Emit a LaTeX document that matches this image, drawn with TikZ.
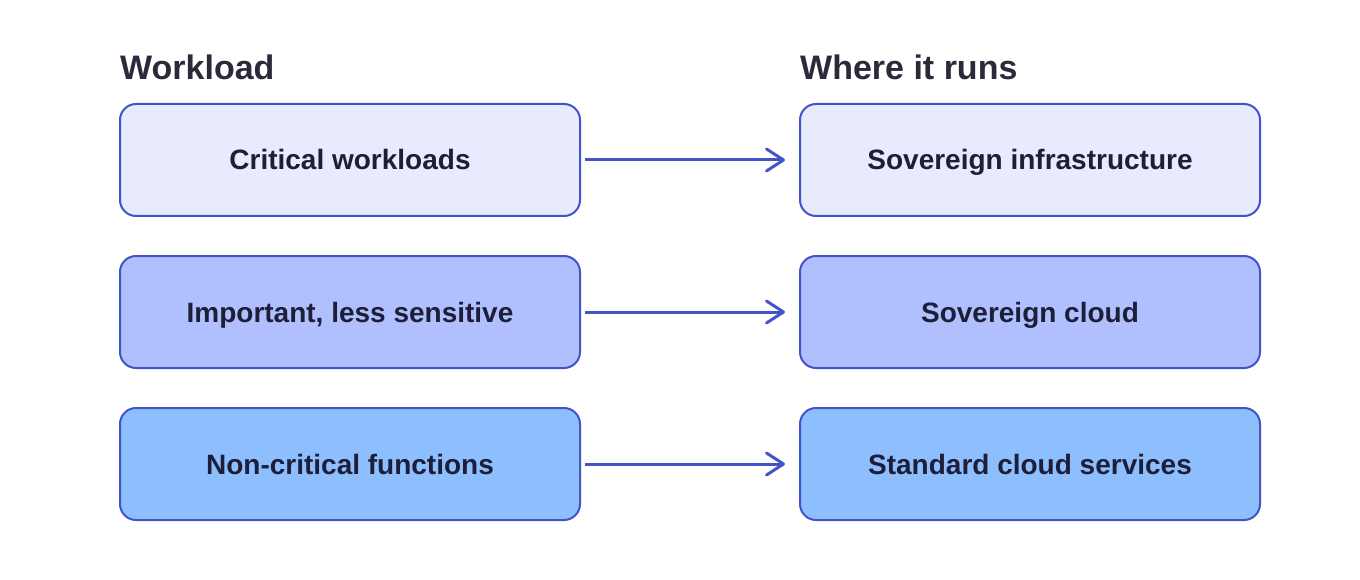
\documentclass[tikz,border=0pt]{standalone}
\usepackage{fontspec}
\setmainfont{Liberation Sans}
\usepackage{xcolor}
\usetikzlibrary{arrows.meta,positioning,calc}
\definecolor{cEdge}{HTML}{4254C8}
\definecolor{cPale}{HTML}{E8EBFD}
\definecolor{cMid}{HTML}{B0BFFD}
\definecolor{cSky}{HTML}{8DBFFE}
\definecolor{cInk}{HTML}{1E1E38}
\definecolor{cHead}{HTML}{2A2A3A}
\tikzset{
  box/.style   = {draw=cEdge, line width=2pt, rounded corners=16pt, align=center,
                  minimum width=460pt, minimum height=112pt, outer sep=0pt,
                  text=cInk, text height=25.6pt, text depth=5.6pt,
                  font=\fontsize{28}{33}\selectfont\bfseries},
  pale/.style  = {box, fill=cPale},
  mid/.style   = {box, fill=cMid},
  sky/.style   = {box, fill=cSky},
  head/.style  = {text=cHead, inner sep=0pt, anchor=base west,
                  font=\fontsize{34}{40}\selectfont\bfseries},
  flow/.style  = {-{Straight Barb[length=17pt, width=22pt, line width=3pt, round]},
                  line width=3pt, draw=cEdge, shorten <=5pt, shorten >=15pt},
}
\begin{document}
\begin{tikzpicture}[x=1pt, y=1pt, node distance=40pt and 220pt]
  \useasboundingbox (0,0) rectangle (1360,-580);
  % ---- workload column ----
  \node[pale] (crit) at (350,-160) {Critical workloads};
  \node[mid, below=of crit] (imp) {Important, less sensitive};
  \node[sky, below=of imp] (noncrit) {Non-critical functions};
  % ---- where it runs column ----
  \node[pale, right=of crit] (sovinfra) {Sovereign infrastructure};
  \node[mid, right=of imp] (sovcloud) {Sovereign cloud};
  \node[sky, right=of noncrit] (stdcloud) {Standard cloud services};
  % ---- headings ----
  \node[head] (hdwork) at ($(crit.north west)+(0,24)$) {Workload};
  \node[head] (hdwhere) at ($(sovinfra.north west)+(0,24)$) {Where it runs};
  % ---- arrows ----
  \draw[flow] (crit) -- (sovinfra);
  \draw[flow] (imp) -- (sovcloud);
  \draw[flow] (noncrit) -- (stdcloud);
\end{tikzpicture}
\end{document}
